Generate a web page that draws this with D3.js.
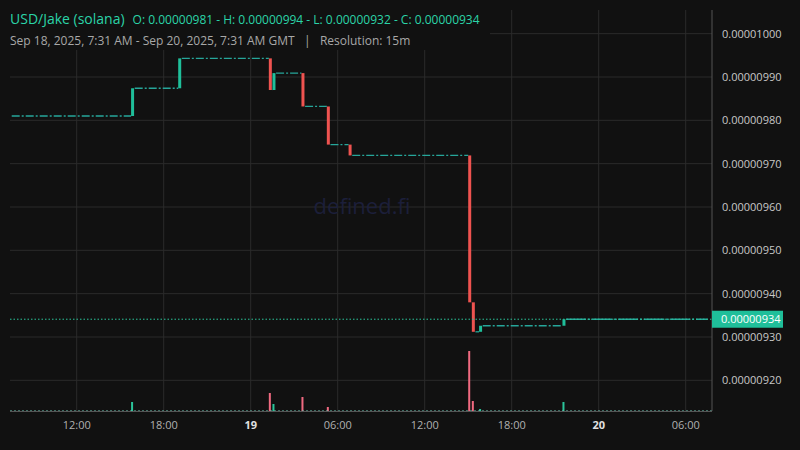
<!DOCTYPE html>
<html><head><meta charset="utf-8">
<script src="https://cdn.jsdelivr.net/npm/d3@7"></script>
<style>body{margin:0;background:#111111}svg{display:block}</style></head>
<body><svg id="c" width="800" height="450"></svg>
<script>
// price-change candles (time, open, close); flat periods between them
const times = ["2025-09-18T15:45","2025-09-18T19:00","2025-09-19T01:15","2025-09-19T01:30","2025-09-19T03:30","2025-09-19T05:15","2025-09-19T06:45","2025-09-19T15:00","2025-09-19T15:15","2025-09-19T15:45","2025-09-19T21:30"];
const opens  = [981, 987.4, 994.3, 987, 990.9, 983.2, 974.4, 971.9, 938, 931.2, 932.6];
const closes = [987.4, 994.3, 987, 990.9, 983.2, 974.4, 971.9, 938, 931.2, 932.6, 934.1];
const volTimes = ["2025-09-18T15:45","2025-09-19T01:15","2025-09-19T01:30","2025-09-19T03:30","2025-09-19T05:15","2025-09-19T15:00","2025-09-19T15:15","2025-09-19T15:45","2025-09-19T21:30"];
const volumes = [9, 18, 7, 14, 4, 60, 10, 2, 9];
const volUp = [true,false,true,false,false,false,false,true,true];
const yTicks = [920,930,940,950,960,970,980,990,1000];
const startPrice = 981, lastPrice = 934.1;
const fmt = v => (v/1e8).toFixed(8);

const svg = d3.select("#c");
const parse = d3.timeParse("%Y-%m-%dT%H:%M");
const t0 = parse("2025-09-18T07:31"), t1 = parse("2025-09-20T07:31");
const x = d3.scaleTime().domain([t0,t1]).range([11.7, 707.7]);
const y = d3.scaleLinear().domain([930,990]).range([337,77]);
const vy = d3.scaleLinear().domain([0,60]).range([411,351]);
const up="#26a69a", upB="#1fbf9a", dn="#ef5350";
const W=712, B=411;

const g = svg.append("g");
yTicks.forEach(v=>g.append("line").attr("x1",10).attr("x2",W).attr("y1",y(v)).attr("y2",y(v)).attr("stroke","#2b2b2b"));
const xt = [["2025-09-18T12:00","12:00"],["2025-09-18T18:00","18:00"],["2025-09-19T00:00","19"],["2025-09-19T06:00","06:00"],["2025-09-19T12:00","12:00"],["2025-09-19T18:00","18:00"],["2025-09-20T00:00","20"],["2025-09-20T06:00","06:00"]];
xt.forEach(([t,l])=>{const xx=x(parse(t));
 g.append("line").attr("x1",xx).attr("x2",xx).attr("y1",10).attr("y2",B).attr("stroke","#2b2b2b");
 svg.append("text").attr("x",xx).attr("y",429).attr("text-anchor","middle").attr("fill",(l.length<3)?"#e0e0e0":"#b0b0b0").attr("font-weight",l.length<3?"bold":"normal").attr("font-family","Open Sans").attr("font-size",11).text(l);});

svg.append("text").attr("x",362).attr("y",214).attr("text-anchor","middle").attr("fill","#1c1f3a").attr("font-family","Open Sans").attr("font-size",22).text("defined.fi");

let prevT=t0, prevP=startPrice;
times.forEach((t,i)=>{const tt=parse(t);
 svg.append("line").attr("x1",x(prevT)).attr("x2",x(tt)).attr("y1",y(prevP)).attr("y2",y(prevP)).attr("stroke",up).attr("stroke-width",1.3).attr("stroke-dasharray","8,2,2,2");
 prevT=d3.timeMinute.offset(tt,15); prevP=closes[i];});
svg.append("line").attr("x1",x(prevT)).attr("x2",x(t1)).attr("y1",y(prevP)).attr("y2",y(prevP)).attr("stroke",up).attr("stroke-width",1.3).attr("stroke-dasharray","20,2,2,2");

times.forEach((t,i)=>{const xx=x(parse(t));const a=y(opens[i]),b=y(closes[i]);
 svg.append("rect").attr("x",xx).attr("width",3).attr("y",Math.min(a,b)).attr("height",Math.max(1,Math.abs(a-b))).attr("fill",closes[i]>=opens[i]?upB:dn);});

volTimes.forEach((t,i)=>{svg.append("rect").attr("x",x(parse(t))).attr("width",2).attr("y",vy(volumes[i])).attr("height",B-vy(volumes[i])).attr("fill",volUp[i]?"#2bc49a":"#f06a80");});
svg.append("line").attr("x1",10).attr("x2",W).attr("y1",B).attr("y2",B).attr("stroke","#6fc9b6").attr("stroke-dasharray","2,2");

svg.append("line").attr("x1",10).attr("x2",W).attr("y1",y(lastPrice)).attr("y2",y(lastPrice)).attr("stroke","#2bc49a").attr("stroke-dasharray","1.5,2");

svg.append("line").attr("x1",W).attr("x2",W).attr("y1",10).attr("y2",B).attr("stroke","#555");
svg.append("line").attr("x1",10).attr("x2",W).attr("y1",B+0.5).attr("y2",B+0.5).attr("stroke","#555");
yTicks.forEach(v=>svg.append("text").attr("x",722).attr("y",y(v)+1).attr("dominant-baseline","middle").attr("fill","#c8c8c8").attr("font-family","Open Sans").attr("font-size",11).text(fmt(v)));
svg.append("rect").attr("x",W).attr("y",y(lastPrice)-8.5).attr("width",71).attr("height",17).attr("fill","#1fbf9a");
svg.append("text").attr("x",721).attr("y",y(lastPrice)+1).attr("dominant-baseline","middle").attr("fill","#fff").attr("font-family","Open Sans").attr("font-size",11).text(fmt(934));

svg.append("rect").attr("x",0).attr("y",0).attr("width",490).attr("height",50).attr("fill","#111111");
const h=svg.append("text").attr("x",10).attr("y",24).attr("font-family","Open Sans");
h.append("tspan").attr("fill","#2bd4a8").attr("font-size",14).text("USD/Jake (solana)");
h.append("tspan").attr("dx",8).attr("fill","#2bd4a8").attr("font-size",12).text("O: 0.00000981 - H: 0.00000994 - L: 0.00000932 - C: 0.00000934");
svg.append("text").attr("x",10).attr("y",45).attr("font-family","Open Sans").attr("font-size",12).attr("fill","#a8a8a8").attr("xml:space","preserve").text("Sep 18, 2025, 7:31 AM - Sep 20, 2025, 7:31 AM GMT   |   Resolution: 15m");
</script></body></html>
